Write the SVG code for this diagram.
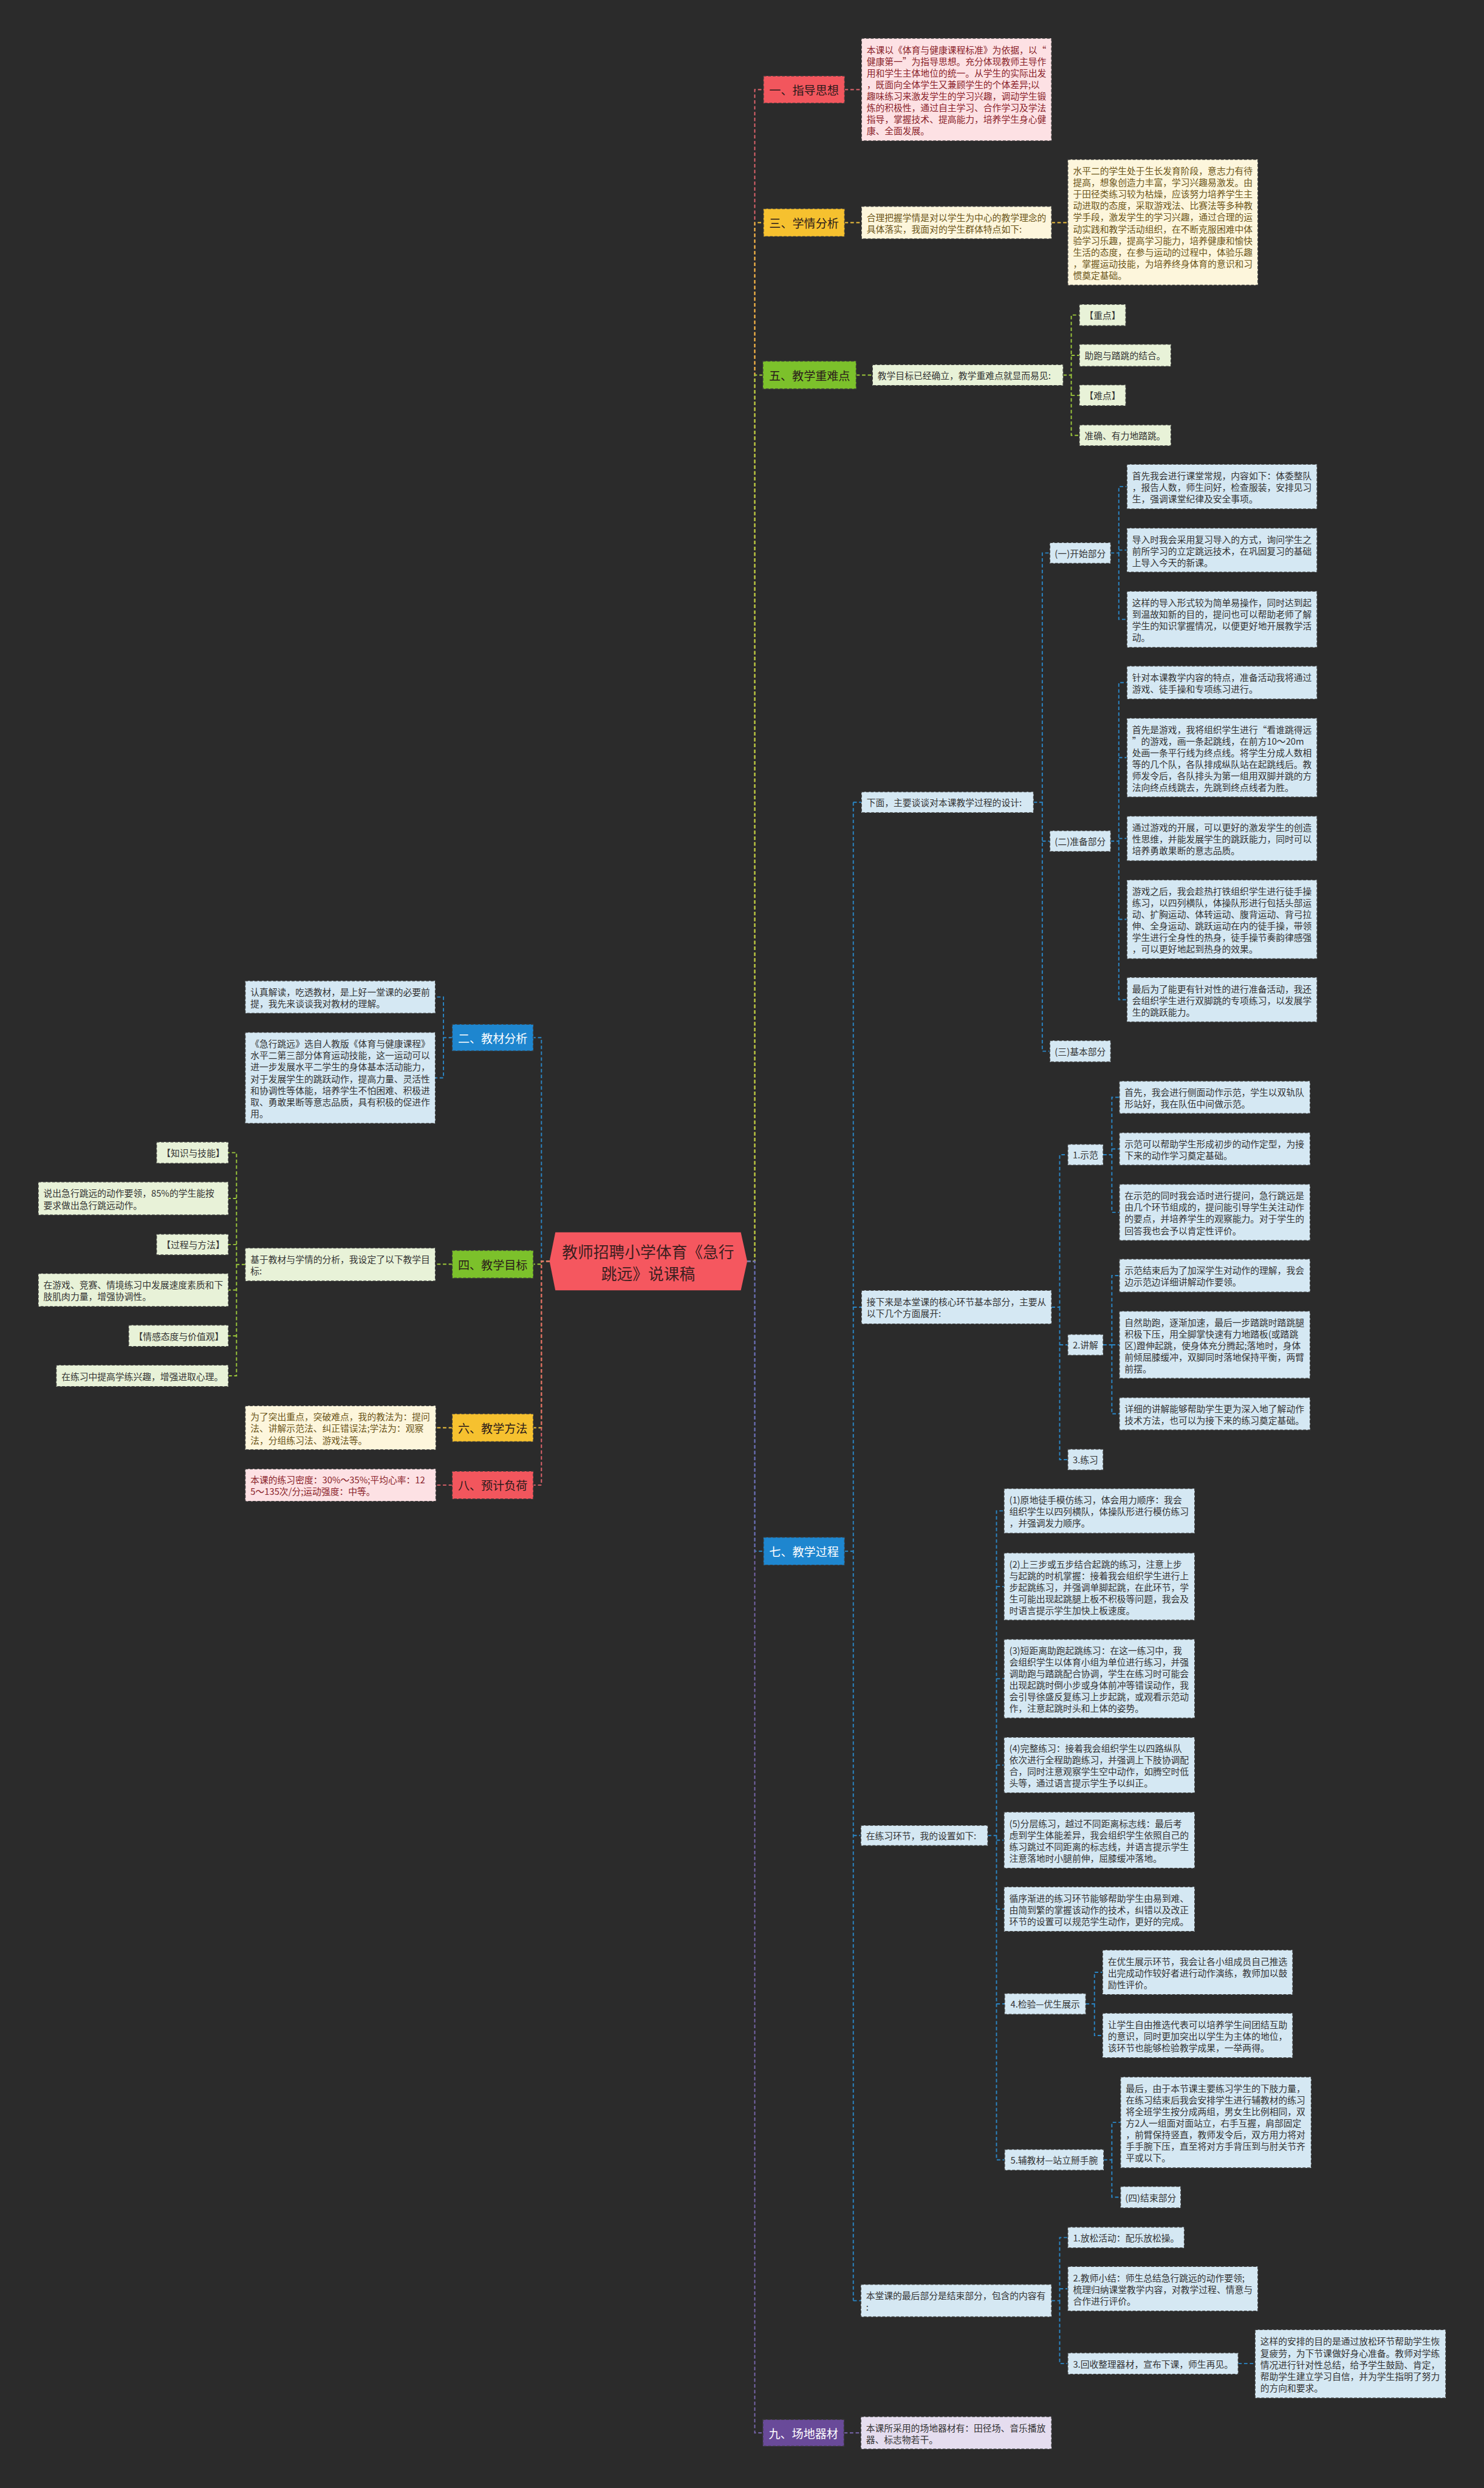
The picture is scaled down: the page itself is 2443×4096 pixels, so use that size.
<svg xmlns="http://www.w3.org/2000/svg" width="2443" height="4096" viewBox="0 0 2443 4096">
<style>
.t{font-family:"Noto Sans CJK SC","Noto Sans",sans-serif;font-size:15.5px;dominant-baseline:central}
.m{font-family:"Noto Sans CJK SC","Noto Sans",sans-serif;font-size:20px;dominant-baseline:central;text-anchor:middle}
.ctr{text-anchor:middle}
.b{stroke:#3a3a3a;stroke-width:1.5;stroke-dasharray:5 3}
.pk{fill:#fde1e4}.cr{fill:#fdf6dc}.gr{fill:#e8f2d8}.bl{fill:#d5e8f3}.pu{fill:#e5ddef}
.nr{fill:#f2565d}.ny{fill:#f6c12f}.ng{fill:#7cc12b}.nb{fill:#1e86cf}.np{fill:#694a99}
.tk{fill:#333333}.tp{fill:#8a1f2a}.tc{fill:#6b5518}.tw{fill:#ffffff}.td{fill:#2a1a1a}
.c{fill:none;stroke-width:2;stroke-dasharray:6 4}
.cR{stroke:#e3646d}.cY{stroke:#efc13c}.cG{stroke:#9cc83b}.cB{stroke:#2a86c6}.cP{stroke:#7866ad}
</style>
<rect width="2443" height="4096" fill="#2b2b2b"/>
<g transform="scale(0.9543)">
<g id="connectors">
<path class="c cR" d="M1289,2176 H1302 V154.5 H1317 M1457,154.5 H1486"/>
<path class="c cB" d="M948,2176 H934 V1790 H920 M780,1790 H765 V1720 H751 M765,1790 V1859.5 H751"/>
<path class="c cY" d="M1289,2176 H1302 V384 H1317 M1457,384 H1486 M1814,384 H1842"/>
<path class="c cG" d="M948,2176 H934 V2181 H920 M780,2181 H751 M423,2181.5 H408 V1988.5 H394 M408,2067.5 H394 M408,2147 H394 M408,2181.5 V2373.5 H394 M408,2225.5 H394 M408,2304.5 H394"/>
<path class="c cG" d="M1289,2176 H1302 V647 H1316 M1477,647 H1505 M1834,647 H1848 V543.5 H1862 M1848,613 H1862 M1848,647 V751 H1862 M1848,682 H1862"/>
<path class="c cY" d="M948,2176 H934 V2463 H920 M780,2463 H752"/>
<path class="c cB" d="M1289,2176 H1302 V2676 H1317 M1457,2676 H1472 M1472,1384 V3969 M1472,1384 H1486 M1472,2255 H1486 M1472,3166.5 H1485 M1472,3969 H1485"/>
<path class="c cB" d="M1783,1384 H1798 V954 H1811 M1798,1384 V1813.5 H1811 M1798,1451 H1811"/>
<path class="c cB" d="M1916,954 H1930 V839.5 H1944 M1930,954 V1068.5 H1944 M1930,949 H1944"/>
<path class="c cB" d="M1916,1451 H1930 V1177.5 H1944 M1930,1451 V1724.5 H1944 M1930,1307 H1944 M1930,1446.5 H1944 M1930,1586 H1944"/>
<path class="c cB" d="M1814,2255 H1828 V1992 H1842 M1828,2255 V2518 H1842 M1828,2320 H1842"/>
<path class="c cB" d="M1903,1992 H1918 V1893 H1931 M1918,1992 V2091.5 H1931 M1918,1982 H1931"/>
<path class="c cB" d="M1903,2320 H1918 V2200.5 H1931 M1918,2320 V2439 H1931 M1918,2320 H1931"/>
<path class="c cB" d="M1704,3166.5 H1719 V2606.5 H1732 M1719,3166.5 V3726 H1733 M1719,2737 H1732 M1719,2896 H1732 M1719,3045 H1732 M1719,3174.5 H1732 M1719,3293.5 H1732 M1719,3457 H1733"/>
<path class="c cB" d="M1873,3457 H1888 V3402.5 H1902 M1888,3457 V3511.5 H1902"/>
<path class="c cB" d="M1904,3726 H1918 V3661.5 H1933 M1918,3726 V3790.5 H1933"/>
<path class="c cB" d="M1814,3969 H1828 V3860 H1842 M1828,3969 V4077.5 H1842 M1828,3948.5 H1842 M2136,4077.5 H2165"/>
<path class="c cR" d="M948,2176 H934 V2562 H920 M780,2562 H752"/>
<path class="c cP" d="M1289,2176 H1302 V4197 H1316 M1456,4197 H1485"/>
</g>

<g id="center">
<polygon points="948,2176 958,2126 1278,2126 1289,2176 1278,2226 958,2226" fill="#f5575f"/>
<text class="t ctr" x="1118" style="font-size:27px;fill:#3d1f1f"><tspan x="1118" y="2158">教师招聘小学体育《急行</tspan><tspan x="1118" y="2195">跳远》说课稿</tspan></text>
</g>

<g id="n1">
<rect class="nr b" x="1317" y="131" width="140" height="47"/>
<text class="m td" x="1387" y="154.5">一、指导思想</text>
</g>
<g id="n1a">
<rect class="pk b" x="1486" y="66" width="328" height="177"/>
<text class="t tp"><tspan x="1495" y="84.5">本课以《体育与健康课程标准》为依据，以“</tspan><tspan x="1495" dy="20">健康第一”为指导思想。充分体现教师主导作</tspan><tspan x="1495" dy="20">用和学生主体地位的统一。从学生的实际出发</tspan><tspan x="1495" dy="20">，既面向全体学生又兼顾学生的个体差异;以</tspan><tspan x="1495" dy="20">趣味练习来激发学生的学习兴趣，调动学生锻</tspan><tspan x="1495" dy="20">炼的积极性，通过自主学习、合作学习及学法</tspan><tspan x="1495" dy="20">指导，掌握技术、提高能力，培养学生身心健</tspan><tspan x="1495" dy="20">康、全面发展。</tspan></text>
</g>

<g id="n3">
<rect class="ny b" x="1317" y="360" width="140" height="48"/>
<text class="m td" x="1387" y="384">三、学情分析</text>
</g>
<g id="n3a">
<rect class="cr b" x="1486" y="356" width="328" height="56"/>
<text class="t tc"><tspan x="1495" y="374">合理把握学情是对以学生为中心的教学理念的</tspan><tspan x="1495" dy="20">具体落实，我面对的学生群体特点如下:</tspan></text>
</g>
<g id="n3b">
<rect class="cr b" x="1842" y="275" width="328" height="217"/>
<text class="t tc"><tspan x="1851" y="293.5">水平二的学生处于生长发育阶段，意志力有待</tspan><tspan x="1851" dy="20">提高，想象创造力丰富，学习兴趣易激发。由</tspan><tspan x="1851" dy="20">于田径类练习较为枯燥，应该努力培养学生主</tspan><tspan x="1851" dy="20">动进取的态度，采取游戏法、比赛法等多种教</tspan><tspan x="1851" dy="20">学手段，激发学生的学习兴趣，通过合理的运</tspan><tspan x="1851" dy="20">动实践和教学活动组织，在不断克服困难中体</tspan><tspan x="1851" dy="20">验学习乐趣，提高学习能力，培养健康和愉快</tspan><tspan x="1851" dy="20">生活的态度，在参与运动的过程中，体验乐趣</tspan><tspan x="1851" dy="20">，掌握运动技能，为培养终身体育的意识和习</tspan><tspan x="1851" dy="20">惯奠定基础。</tspan></text>
</g>

<g id="n5">
<rect class="ng b" x="1316" y="623" width="161" height="48"/>
<text class="m td" x="1396.5" y="647">五、教学重难点</text>
</g>
<g id="n5a">
<rect class="gr b" x="1505" y="629" width="329" height="36"/>
<text class="t tk" x="1514" y="647">教学目标已经确立，教学重难点就显而易见:</text>
</g>
<g id="n5b"><rect class="gr b" x="1862" y="525" width="80" height="37"/><text class="t tk" x="1871" y="543.5">【重点】</text></g>
<g id="n5c"><rect class="gr b" x="1862" y="594" width="158" height="38"/><text class="t tk" x="1871" y="613">助跑与踏跳的结合。</text></g>
<g id="n5d"><rect class="gr b" x="1862" y="664" width="80" height="36"/><text class="t tk" x="1871" y="682">【难点】</text></g>
<g id="n5e"><rect class="gr b" x="1862" y="733" width="158" height="36"/><text class="t tk" x="1871" y="751">准确、有力地踏跳。</text></g>

<g id="n7">
<rect class="nb b" x="1317" y="2652" width="140" height="48"/>
<text class="m tw" x="1387" y="2676">七、教学过程</text>
</g>
<g id="n7a"><rect class="bl b" x="1486" y="1366" width="297" height="36"/><text class="t tk" x="1495" y="1384">下面，主要谈谈对本课教学过程的设计:</text></g>
<g id="n7a1"><rect class="bl b" x="1811" y="936" width="105" height="36"/><text class="t tk ctr" x="1863.5" y="954">(一)开始部分</text></g>
<g id="n7a2"><rect class="bl b" x="1811" y="1433" width="105" height="36"/><text class="t tk ctr" x="1863.5" y="1451">(二)准备部分</text></g>
<g id="n7a3"><rect class="bl b" x="1811" y="1795" width="105" height="37"/><text class="t tk ctr" x="1863.5" y="1813.5">(三)基本部分</text></g>
<g id="nA1"><rect class="bl b" x="1944" y="801" width="328" height="77"/><text class="t tk"><tspan x="1953" y="819.5">首先我会进行课堂常规，内容如下：体委整队</tspan><tspan x="1953" dy="20">，报告人数，师生问好，检查服装，安排见习</tspan><tspan x="1953" dy="20">生，强调课堂纪律及安全事项。</tspan></text></g>
<g id="nA2"><rect class="bl b" x="1944" y="911" width="328" height="76"/><text class="t tk"><tspan x="1953" y="929">导入时我会采用复习导入的方式，询问学生之</tspan><tspan x="1953" dy="20">前所学习的立定跳远技术，在巩固复习的基础</tspan><tspan x="1953" dy="20">上导入今天的新课。</tspan></text></g>
<g id="nA3"><rect class="bl b" x="1944" y="1020" width="328" height="97"/><text class="t tk"><tspan x="1953" y="1038.5">这样的导入形式较为简单易操作，同时达到起</tspan><tspan x="1953" dy="20">到温故知新的目的，提问也可以帮助老师了解</tspan><tspan x="1953" dy="20">学生的知识掌握情况，以便更好地开展教学活</tspan><tspan x="1953" dy="20">动。</tspan></text></g>
<g id="nB1"><rect class="bl b" x="1944" y="1149" width="328" height="57"/><text class="t tk"><tspan x="1953" y="1167.5">针对本课教学内容的特点，准备活动我将通过</tspan><tspan x="1953" dy="20">游戏、徒手操和专项练习进行。</tspan></text></g>
<g id="nB2"><rect class="bl b" x="1944" y="1239" width="328" height="136"/><text class="t tk"><tspan x="1953" y="1257">首先是游戏，我将组织学生进行“看谁跳得远</tspan><tspan x="1953" dy="20">”的游戏，画一条起跳线，在前方10～20m</tspan><tspan x="1953" dy="20">处画一条平行线为终点线。将学生分成人数相</tspan><tspan x="1953" dy="20">等的几个队，各队排成纵队站在起跳线后。教</tspan><tspan x="1953" dy="20">师发令后，各队排头为第一组用双脚并跳的方</tspan><tspan x="1953" dy="20">法向终点线跳去，先跳到终点线者为胜。</tspan></text></g>
<g id="nB3"><rect class="bl b" x="1944" y="1408" width="328" height="77"/><text class="t tk"><tspan x="1953" y="1426.5">通过游戏的开展，可以更好的激发学生的创造</tspan><tspan x="1953" dy="20">性思维，并能发展学生的跳跃能力，同时可以</tspan><tspan x="1953" dy="20">培养勇敢果断的意志品质。</tspan></text></g>
<g id="nB4"><rect class="bl b" x="1944" y="1518" width="328" height="136"/><text class="t tk"><tspan x="1953" y="1536">游戏之后，我会趁热打铁组织学生进行徒手操</tspan><tspan x="1953" dy="20">练习，以四列横队，体操队形进行包括头部运</tspan><tspan x="1953" dy="20">动、扩胸运动、体转运动、腹背运动、背弓拉</tspan><tspan x="1953" dy="20">伸、全身运动、跳跃运动在内的徒手操，带领</tspan><tspan x="1953" dy="20">学生进行全身性的热身，徒手操节奏韵律感强</tspan><tspan x="1953" dy="20">，可以更好地起到热身的效果。</tspan></text></g>
<g id="nB5"><rect class="bl b" x="1944" y="1686" width="328" height="77"/><text class="t tk"><tspan x="1953" y="1704.5">最后为了能更有针对性的进行准备活动，我还</tspan><tspan x="1953" dy="20">会组织学生进行双脚跳的专项练习，以发展学</tspan><tspan x="1953" dy="20">生的跳跃能力。</tspan></text></g>

<g id="n7b"><rect class="bl b" x="1486" y="2226" width="328" height="58"/><text class="t tk"><tspan x="1495" y="2245">接下来是本堂课的核心环节基本部分，主要从</tspan><tspan x="1495" dy="20">以下几个方面展开:</tspan></text></g>
<g id="n7b1"><rect class="bl b" x="1842" y="1974" width="61" height="36"/><text class="t tk ctr" x="1872.5" y="1992">1.示范</text></g>
<g id="n7b2"><rect class="bl b" x="1842" y="2302" width="61" height="36"/><text class="t tk ctr" x="1872.5" y="2320">2.讲解</text></g>
<g id="n7b3"><rect class="bl b" x="1842" y="2500" width="61" height="36"/><text class="t tk ctr" x="1872.5" y="2518">3.练习</text></g>
<g id="nC1"><rect class="bl b" x="1931" y="1865" width="329" height="56"/><text class="t tk"><tspan x="1940" y="1883">首先，我会进行侧面动作示范，学生以双轨队</tspan><tspan x="1940" dy="20">形站好，我在队伍中间做示范。</tspan></text></g>
<g id="nC2"><rect class="bl b" x="1931" y="1954" width="329" height="56"/><text class="t tk"><tspan x="1940" y="1972">示范可以帮助学生形成初步的动作定型，为接</tspan><tspan x="1940" dy="20">下来的动作学习奠定基础。</tspan></text></g>
<g id="nC3"><rect class="bl b" x="1931" y="2043" width="329" height="97"/><text class="t tk"><tspan x="1940" y="2061.5">在示范的同时我会适时进行提问，急行跳远是</tspan><tspan x="1940" dy="20">由几个环节组成的，提问能引导学生关注动作</tspan><tspan x="1940" dy="20">的要点，并培养学生的观察能力。对于学生的</tspan><tspan x="1940" dy="20">回答我也会予以肯定性评价。</tspan></text></g>
<g id="nC4"><rect class="bl b" x="1931" y="2172" width="329" height="57"/><text class="t tk"><tspan x="1940" y="2190.5">示范结束后为了加深学生对动作的理解，我会</tspan><tspan x="1940" dy="20">边示范边详细讲解动作要领。</tspan></text></g>
<g id="nC5"><rect class="bl b" x="1931" y="2262" width="329" height="116"/><text class="t tk"><tspan x="1940" y="2280">自然助跑，逐渐加速，最后一步踏跳时踏跳腿</tspan><tspan x="1940" dy="20">积极下压，用全脚掌快速有力地踏板(或踏跳</tspan><tspan x="1940" dy="20">区)蹬伸起跳，使身体充分腾起;落地时，身体</tspan><tspan x="1940" dy="20">前倾屈膝缓冲，双脚同时落地保持平衡，两臂</tspan><tspan x="1940" dy="20">前摆。</tspan></text></g>
<g id="nC6"><rect class="bl b" x="1931" y="2411" width="329" height="56"/><text class="t tk"><tspan x="1940" y="2429">详细的讲解能够帮助学生更为深入地了解动作</tspan><tspan x="1940" dy="20">技术方法，也可以为接下来的练习奠定基础。</tspan></text></g>

<g id="n7c"><rect class="bl b" x="1485" y="3149" width="219" height="35"/><text class="t tk" x="1494" y="3166.5">在练习环节，我的设置如下:</text></g>
<g id="nP1"><rect class="bl b" x="1732" y="2568" width="329" height="77"/><text class="t tk"><tspan x="1741" y="2586.5">(1)原地徒手模仿练习，体会用力顺序：我会</tspan><tspan x="1741" dy="20">组织学生以四列横队，体操队形进行模仿练习</tspan><tspan x="1741" dy="20">，并强调发力顺序。</tspan></text></g>
<g id="nP2"><rect class="bl b" x="1732" y="2679" width="329" height="116"/><text class="t tk"><tspan x="1741" y="2697">(2)上三步或五步结合起跳的练习，注意上步</tspan><tspan x="1741" dy="20">与起跳的时机掌握：接着我会组织学生进行上</tspan><tspan x="1741" dy="20">步起跳练习，并强调单脚起跳，在此环节，学</tspan><tspan x="1741" dy="20">生可能出现起跳腿上板不积极等问题，我会及</tspan><tspan x="1741" dy="20">时语言提示学生加快上板速度。</tspan></text></g>
<g id="nP3"><rect class="bl b" x="1732" y="2828" width="329" height="136"/><text class="t tk"><tspan x="1741" y="2846">(3)短距离助跑起跳练习：在这一练习中，我</tspan><tspan x="1741" dy="20">会组织学生以体育小组为单位进行练习，并强</tspan><tspan x="1741" dy="20">调助跑与踏跳配合协调，学生在练习时可能会</tspan><tspan x="1741" dy="20">出现起跳时倒小步或身体前冲等错误动作，我</tspan><tspan x="1741" dy="20">会引导徐盛反复练习上步起跳，或观看示范动</tspan><tspan x="1741" dy="20">作，注意起跳时头和上体的姿势。</tspan></text></g>
<g id="nP4"><rect class="bl b" x="1732" y="2997" width="329" height="96"/><text class="t tk"><tspan x="1741" y="3015">(4)完整练习：接着我会组织学生以四路纵队</tspan><tspan x="1741" dy="20">依次进行全程助跑练习，并强调上下肢协调配</tspan><tspan x="1741" dy="20">合，同时注意观察学生空中动作，如腾空时低</tspan><tspan x="1741" dy="20">头等，通过语言提示学生予以纠正。</tspan></text></g>
<g id="nP5"><rect class="bl b" x="1732" y="3126" width="329" height="97"/><text class="t tk"><tspan x="1741" y="3144.5">(5)分层练习，越过不同距离标志线：最后考</tspan><tspan x="1741" dy="20">虑到学生体能差异，我会组织学生依照自己的</tspan><tspan x="1741" dy="20">练习跳过不同距离的标志线，并语言提示学生</tspan><tspan x="1741" dy="20">注意落地时小腿前伸，屈膝缓冲落地。</tspan></text></g>
<g id="nP6"><rect class="bl b" x="1732" y="3255" width="329" height="77"/><text class="t tk"><tspan x="1741" y="3273.5">循序渐进的练习环节能够帮助学生由易到难、</tspan><tspan x="1741" dy="20">由简到繁的掌握该动作的技术，纠错以及改正</tspan><tspan x="1741" dy="20">环节的设置可以规范学生动作，更好的完成。</tspan></text></g>
<g id="nP7"><rect class="bl b" x="1733" y="3439" width="140" height="36"/><text class="t tk ctr" x="1803" y="3457">4.检验—优生展示</text></g>
<g id="nD1"><rect class="bl b" x="1902" y="3364" width="328" height="77"/><text class="t tk"><tspan x="1911" y="3382.5">在优生展示环节，我会让各小组成员自己推选</tspan><tspan x="1911" dy="20">出完成动作较好者进行动作演练，教师加以鼓</tspan><tspan x="1911" dy="20">励性评价。</tspan></text></g>
<g id="nD2"><rect class="bl b" x="1902" y="3473" width="328" height="77"/><text class="t tk"><tspan x="1911" y="3491.5">让学生自由推选代表可以培养学生间团结互助</tspan><tspan x="1911" dy="20">的意识，同时更加突出以学生为主体的地位，</tspan><tspan x="1911" dy="20">该环节也能够检验教学成果，一举两得。</tspan></text></g>
<g id="nP8"><rect class="bl b" x="1733" y="3708" width="171" height="36"/><text class="t tk ctr" x="1818.5" y="3726">5.辅教材—站立掰手腕</text></g>
<g id="nE1"><rect class="bl b" x="1933" y="3583" width="329" height="157"/><text class="t tk"><tspan x="1942" y="3601.5">最后，由于本节课主要练习学生的下肢力量，</tspan><tspan x="1942" dy="20">在练习结束后我会安排学生进行辅教材的练习</tspan><tspan x="1942" dy="20">将全班学生按分成两组，男女生比例相同，双</tspan><tspan x="1942" dy="20">方2人一组面对面站立，右手互握，肩部固定</tspan><tspan x="1942" dy="20">，前臂保持竖直，教师发令后，双方用力将对</tspan><tspan x="1942" dy="20">手手腕下压，直至将对方手背压到与肘关节齐</tspan><tspan x="1942" dy="20">平或以下。</tspan></text></g>
<g id="nE2"><rect class="bl b" x="1933" y="3772" width="104" height="37"/><text class="t tk ctr" x="1985" y="3790.5">(四)结束部分</text></g>

<g id="n7d"><rect class="bl b" x="1485" y="3941" width="329" height="56"/><text class="t tk"><tspan x="1494" y="3959">本堂课的最后部分是结束部分，包含的内容有</tspan><tspan x="1494" dy="20">:</tspan></text></g>
<g id="nF1"><rect class="bl b" x="1842" y="3842" width="201" height="36"/><text class="t tk" x="1851" y="3860">1.放松活动：配乐放松操。</text></g>
<g id="nF2"><rect class="bl b" x="1842" y="3910" width="328" height="77"/><text class="t tk"><tspan x="1851" y="3928.5">2.教师小结：师生总结急行跳远的动作要领;</tspan><tspan x="1851" dy="20">梳理归纳课堂教学内容，对教学过程、情意与</tspan><tspan x="1851" dy="20">合作进行评价。</tspan></text></g>
<g id="nF3"><rect class="bl b" x="1842" y="4059" width="294" height="37"/><text class="t tk" x="1851" y="4077.5">3.回收整理器材，宣布下课，师生再见。</text></g>
<g id="nF4"><rect class="bl b" x="2165" y="4019" width="329" height="118"/><text class="t tk"><tspan x="2174" y="4038">这样的安排的目的是通过放松环节帮助学生恢</tspan><tspan x="2174" dy="20">复疲劳，为下节课做好身心准备。教师对学练</tspan><tspan x="2174" dy="20">情况进行针对性总结，给予学生鼓励、肯定，</tspan><tspan x="2174" dy="20">帮助学生建立学习自信，并为学生指明了努力</tspan><tspan x="2174" dy="20">的方向和要求。</tspan></text></g>

<g id="n9">
<rect class="np b" x="1316" y="4174" width="140" height="46"/>
<text class="m tw" x="1386" y="4197">九、场地器材</text>
</g>
<g id="n9a"><rect class="pu b" x="1485" y="4169" width="329" height="56"/><text class="t tk"><tspan x="1494" y="4187">本课所采用的场地器材有：田径场、音乐播放</tspan><tspan x="1494" dy="20">器、标志物若干。</tspan></text></g>

<g id="n2">
<rect class="nb b" x="780" y="1767" width="140" height="46"/>
<text class="m tw" x="850" y="1790">二、教材分析</text>
</g>
<g id="n2a"><rect class="bl b" x="423" y="1692" width="328" height="56"/><text class="t tk"><tspan x="432" y="1710">认真解读，吃透教材，是上好一堂课的必要前</tspan><tspan x="432" dy="20">提，我先来谈谈我对教材的理解。</tspan></text></g>
<g id="n2b"><rect class="bl b" x="423" y="1781" width="328" height="157"/><text class="t tk"><tspan x="432" y="1799.5">《急行跳远》选自人教版《体育与健康课程》</tspan><tspan x="432" dy="20">水平二第三部分体育运动技能，这一运动可以</tspan><tspan x="432" dy="20">进一步发展水平二学生的身体基本活动能力，</tspan><tspan x="432" dy="20">对于发展学生的跳跃动作，提高力量、灵活性</tspan><tspan x="432" dy="20">和协调性等体能，培养学生不怕困难、积极进</tspan><tspan x="432" dy="20">取、勇敢果断等意志品质，具有积极的促进作</tspan><tspan x="432" dy="20">用。</tspan></text></g>

<g id="n4">
<rect class="ng b" x="780" y="2157" width="140" height="48"/>
<text class="m td" x="850" y="2181">四、教学目标</text>
</g>
<g id="n4a"><rect class="gr b" x="423" y="2153" width="328" height="57"/><text class="t tk"><tspan x="432" y="2171.5">基于教材与学情的分析，我设定了以下教学目</tspan><tspan x="432" dy="20">标:</tspan></text></g>
<g id="n4b"><rect class="gr b" x="270" y="1970" width="124" height="37"/><text class="t tk" x="279" y="1988.5">【知识与技能】</text></g>
<g id="n4c"><rect class="gr b" x="66" y="2039" width="328" height="57"/><text class="t tk"><tspan x="75" y="2057.5">说出急行跳远的动作要领，85%的学生能按</tspan><tspan x="75" dy="20">要求做出急行跳远动作。</tspan></text></g>
<g id="n4d"><rect class="gr b" x="270" y="2129" width="124" height="36"/><text class="t tk" x="279" y="2147">【过程与方法】</text></g>
<g id="n4e"><rect class="gr b" x="66" y="2197" width="328" height="57"/><text class="t tk"><tspan x="75" y="2215.5">在游戏、竞赛、情境练习中发展速度素质和下</tspan><tspan x="75" dy="20">肢肌肉力量，增强协调性。</tspan></text></g>
<g id="n4f"><rect class="gr b" x="222" y="2286" width="172" height="37"/><text class="t tk" x="231" y="2304.5">【情感态度与价值观】</text></g>
<g id="n4g"><rect class="gr b" x="97" y="2355" width="297" height="37"/><text class="t tk" x="106" y="2373.5">在练习中提高学练兴趣，增强进取心理。</text></g>

<g id="n6">
<rect class="ny b" x="780" y="2439" width="140" height="48"/>
<text class="m td" x="850" y="2463">六、教学方法</text>
</g>
<g id="n6a"><rect class="cr b" x="423" y="2425" width="329" height="76"/><text class="t tc"><tspan x="432" y="2443">为了突出重点，突破难点，我的教法为：提问</tspan><tspan x="432" dy="20">法、讲解示范法、纠正错误法;学法为：观察</tspan><tspan x="432" dy="20">法，分组练习法、游戏法等。</tspan></text></g>

<g id="n8">
<rect class="nr b" x="780" y="2538" width="140" height="48"/>
<text class="m td" x="850" y="2562">八、预计负荷</text>
</g>
<g id="n8a"><rect class="pk b" x="423" y="2534" width="329" height="56"/><text class="t tp"><tspan x="432" y="2552">本课的练习密度：30%～35%;平均心率：12</tspan><tspan x="432" dy="20">5～135次/分;运动强度：中等。</tspan></text></g>
</g>
</svg>
